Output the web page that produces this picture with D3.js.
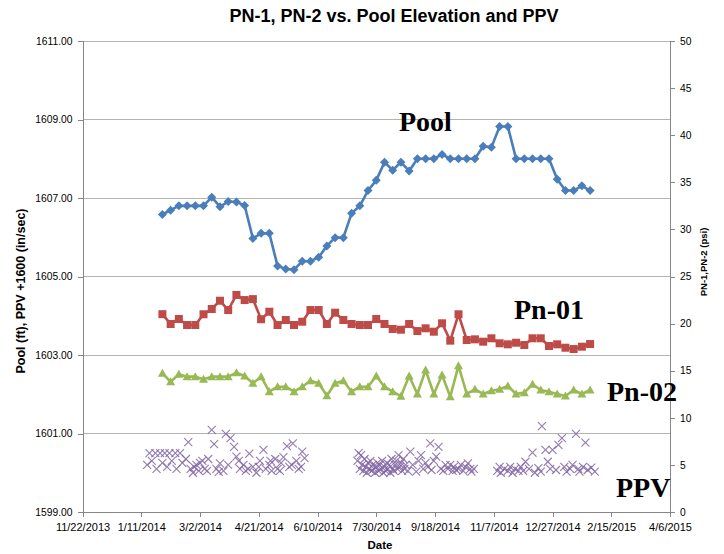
<!DOCTYPE html>
<html lang="en">
  <head>
    <meta charset="utf-8">
    <title>PN-1, PN-2 vs. Pool Elevation and PPV</title>
    <script src="https://cdn.jsdelivr.net/npm/d3@7/dist/d3.min.js"></script>
    <style>
      body { margin: 0; background: #fff; }
      .axis text { font-family: "Liberation Sans", Arial, sans-serif; fill: #000; }
      .axis path, .axis line { stroke: #868686; shape-rendering: crispEdges; }
      .grid line { stroke: #b3b3b3; shape-rendering: crispEdges; }
      .title, .label { font-family: "Liberation Sans", Arial, sans-serif; font-weight: bold; }
      .tag { font-family: "Liberation Serif", "DejaVu Serif", serif; font-weight: bold; font-size: 28px; }
    </style>
  </head>
  <body>
    <svg class="chart"></svg>

    <script type="text/javascript">
    // weekly readings (Pool, Pn-01, Pn-02)
    var weekDates = ["2014-01-29","2014-02-05","2014-02-12","2014-02-19","2014-02-26","2014-03-05","2014-03-12",
      "2014-03-19","2014-03-26","2014-04-02","2014-04-09","2014-04-16","2014-04-23","2014-04-30","2014-05-07",
      "2014-05-14","2014-05-21","2014-05-28","2014-06-04","2014-06-11","2014-06-18","2014-06-25","2014-07-02",
      "2014-07-09","2014-07-16","2014-07-23","2014-07-30","2014-08-06","2014-08-13","2014-08-20","2014-08-27",
      "2014-09-03","2014-09-10","2014-09-17","2014-09-24","2014-10-01","2014-10-08","2014-10-15","2014-10-22",
      "2014-10-29","2014-11-05","2014-11-12","2014-11-19","2014-11-26","2014-12-03","2014-12-10","2014-12-17",
      "2014-12-24","2014-12-31","2015-01-07","2015-01-14","2015-01-21","2015-01-28"];

    var pool = [1606.58,1606.69,1606.80,1606.80,1606.80,1606.80,1607.02,1606.78,1606.91,1606.90,1606.81,1605.97,
      1606.10,1606.10,1605.27,1605.19,1605.17,1605.39,1605.39,1605.49,1605.78,1605.99,1605.99,1606.61,1606.80,
      1607.19,1607.45,1607.91,1607.71,1607.91,1607.69,1608.00,1608.00,1608.00,1608.11,1608.00,1608.00,1608.00,
      1608.00,1608.32,1608.29,1608.82,1608.82,1608.00,1608.00,1608.00,1608.00,1608.00,1607.48,1607.19,1607.19,
      1607.31,1607.19];

    var pn01 = [21.0,19.96,20.49,19.85,19.85,20.99,21.55,22.43,21.44,23.04,22.5,22.6,20.46,21.26,19.85,20.38,
      19.85,20.2,21.44,21.44,19.96,21.16,20.38,19.96,19.85,19.85,20.49,19.96,19.43,19.35,19.96,19.21,19.5,19.14,
      20.03,18.19,20.99,18.26,18.33,18.08,18.44,17.91,17.8,17.97,17.73,18.44,18.44,17.62,17.8,17.44,17.3,17.55,17.83];

    var pn02 = [14.72,13.83,14.62,14.37,14.37,14.09,14.37,14.37,14.37,14.79,14.44,13.66,14.37,12.77,13.3,13.3,
      12.77,13.3,13.94,13.66,12.35,13.66,13.94,12.77,13.3,13.3,14.44,13.3,12.77,12.3,14.44,12.53,15.07,12.53,
      14.54,12.24,15.53,12.53,13.03,12.53,12.88,13.03,13.38,12.53,12.67,13.56,12.95,12.77,12.53,12.31,12.95,12.53,12.95];

    // PPV readings (in/sec), plotted at +1600 on the left axis
    var ppvDates = [
      "2014-01-16","2014-01-18","2014-01-20","2014-01-23","2014-01-24","2014-01-27","2014-01-29","2014-01-31","2014-02-02","2014-02-04",
      "2014-02-06","2014-02-09","2014-02-10","2014-02-13","2014-02-15","2014-02-18","2014-02-20","2014-02-22","2014-02-24","2014-02-25",
      "2014-02-27","2014-03-01","2014-03-02","2014-03-04","2014-03-06","2014-03-08","2014-03-09","2014-03-12","2014-03-14","2014-03-16",
      "2014-03-18","2014-03-19","2014-03-22","2014-03-24","2014-03-26","2014-03-28","2014-03-31","2014-04-02","2014-04-04","2014-04-05",
      "2014-04-08","2014-04-10","2014-04-12","2014-04-13","2014-04-16","2014-04-19","2014-04-21","2014-04-22","2014-04-25","2014-04-27",
      "2014-04-30","2014-05-01","2014-05-02","2014-05-05","2014-05-07","2014-05-09","2014-05-10","2014-05-12","2014-05-15","2014-05-17",
      "2014-05-19","2014-05-20","2014-05-23","2014-05-25","2014-05-27","2014-05-28","2014-05-30",
      "2014-07-14","2014-07-15","2014-07-16","2014-07-17","2014-07-18","2014-07-19","2014-07-20","2014-07-21","2014-07-22","2014-07-23",
      "2014-07-24","2014-07-25","2014-07-26","2014-07-27","2014-07-28","2014-07-29","2014-07-30","2014-07-31","2014-08-01","2014-08-02",
      "2014-08-03","2014-08-04","2014-08-05","2014-08-06","2014-08-07","2014-08-08","2014-08-09","2014-08-10","2014-08-11","2014-08-12",
      "2014-08-13","2014-08-14","2014-08-15","2014-08-16","2014-08-17","2014-08-18","2014-08-19","2014-08-20","2014-08-21","2014-08-22",
      "2014-08-23","2014-08-24","2014-08-26","2014-08-28","2014-08-30","2014-09-02","2014-09-04","2014-09-06","2014-09-08","2014-09-10",
      "2014-09-12","2014-09-14","2014-09-15","2014-09-17","2014-09-19","2014-09-21","2014-09-23","2014-09-25","2014-09-27","2014-09-29",
      "2014-10-01","2014-10-03","2014-10-04","2014-10-06","2014-10-08","2014-10-10","2014-10-12","2014-10-14","2014-10-16","2014-10-18",
      "2014-10-19","2014-10-21",
      "2014-11-10","2014-11-12","2014-11-13","2014-11-16","2014-11-19","2014-11-21","2014-11-23","2014-11-25","2014-11-28","2014-11-30",
      "2014-12-02","2014-12-04","2014-12-07","2014-12-10","2014-12-12","2014-12-15","2014-12-17","2014-12-18","2014-12-21","2014-12-23",
      "2014-12-25","2014-12-27","2014-12-30","2015-01-01","2015-01-04","2015-01-06","2015-01-08","2015-01-11","2015-01-13","2015-01-16",
      "2015-01-18","2015-01-19","2015-01-22","2015-01-24","2015-01-26","2015-01-29","2015-02-01"];

    var ppv = [
      0.2,0.5,0.3,0.5,0.1,0.5,0.25,0.5,0.15,0.5,
      0.3,0.5,0.1,0.5,0.25,0.35,0.78,0.1,0.0,0.15,
      0.2,0.05,0.25,0.3,0.1,0.05,0.35,1.09,0.73,0.1,
      0.02,0.24,0.05,0.99,0.2,0.88,0.66,0.41,0.3,0.1,
      0.2,0.05,0.1,0.49,0.15,0.0,0.15,0.3,0.58,0.1,
      0.2,0.3,0.05,0.35,0.1,0.05,0.25,0.4,0.68,0.15,
      0.2,0.75,0.3,0.1,0.15,0.54,0.37,
      0.3,0.5,0.1,0.45,0.2,0.05,0.35,0.15,0.0,0.25,
      0.1,0.3,0.05,0.2,0.1,0.0,0.15,0.25,0.05,0.2,
      0.1,0.3,0.0,0.15,0.05,0.25,0.1,0.2,0.0,0.35,
      0.1,0.05,0.2,0.3,0.1,0.45,0.15,0.25,0.05,0.35,
      0.1,0.2,0.05,0.54,0.2,0.03,0.3,0.45,0.1,0.25,
      0.15,0.75,0.07,0.3,0.41,0.66,0.1,0.05,0.2,0.1,
      0.2,0.05,0.15,0.07,0.1,0.2,0.05,0.15,0.24,0.1,
      0.03,0.1,
      0.05,0.15,0.0,0.1,0.05,0.15,0.0,0.1,0.05,0.15,
      0.05,0.28,0.1,0.51,0.0,0.12,0.03,1.19,0.58,0.28,
      0.1,0.58,0.07,0.71,0.88,0.15,0.03,0.1,0.2,0.99,
      0.1,0.03,0.15,0.77,0.07,0.13,0.03];

    var xTicks = ["2013-11-22","2014-01-11","2014-03-02","2014-04-21","2014-06-10","2014-07-30","2014-09-18",
      "2014-11-07","2014-12-27","2015-02-15","2015-04-06"];
    var leftTicks = [1599,1601,1603,1605,1607,1609,1611];
    var rightTicks = [0,5,10,15,20,25,30,35,40,45,50];

    var margin = {top: 41, right: 54, bottom: 42, left: 82.5},
        width = 724 - margin.left - margin.right,
        height = 554 - margin.top - margin.bottom;

    var parseDate = d3.timeParse("%Y-%m-%d");

    var x = d3.scaleTime()
        .domain([parseDate(xTicks[0]), parseDate(xTicks[xTicks.length - 1])])
        .range([0, width]);
    var yL = d3.scaleLinear().domain([1599, 1611]).range([height, 0]);
    var yR = d3.scaleLinear().domain([0, 50]).range([height, 0]);

    var svg = d3.select(".chart").attr("width", 724).attr("height", 554);
    var chart = svg.append("g")
        .attr("transform", "translate(" + margin.left + "," + margin.top + ")");

    // gridlines
    chart.append("g").attr("class", "grid")
      .selectAll("line").data(leftTicks.slice(1)).enter().append("line")
        .attr("x1", 0).attr("x2", width)
        .attr("y1", function(d) { return yL(d); })
        .attr("y2", function(d) { return yL(d); });

    // axes
    var xAxis = d3.axisBottom(x)
        .tickValues(xTicks.map(parseDate))
        .tickFormat(d3.timeFormat("%-m/%-d/%Y"))
        .tickSizeOuter(0).tickSize(5).tickPadding(6);
    var gx = chart.append("g").attr("class", "x axis")
        .attr("transform", "translate(0," + height + ")")
        .call(xAxis);
    gx.selectAll("text").style("font-size", "11px");

    var gl = chart.append("g").attr("class", "y axis")
        .call(d3.axisLeft(yL).tickValues(leftTicks).tickFormat(d3.format(".2f"))
          .tickSizeOuter(0).tickSize(5).tickPadding(5));
    gl.selectAll("text").style("font-size", "10.3px");

    var gr = chart.append("g").attr("class", "y axis")
        .attr("transform", "translate(" + width + ",0)")
        .call(d3.axisRight(yR).tickValues(rightTicks).tickSizeOuter(0).tickSize(5).tickPadding(5));
    gr.selectAll("text").style("font-size", "10.3px");

    // weekly series
    var weeks = weekDates.map(parseDate);

    function drawLine(vals, yScale, color) {
      var pts = vals.map(function(v, i) { return {date: weeks[i], value: v}; });
      chart.append("path")
        .datum(pts)
        .attr("fill", "none")
        .attr("stroke", color)
        .attr("stroke-width", 2.6)
        .attr("stroke-linejoin", "round")
        .attr("d", d3.line()
          .x(function(d) { return x(d.date); })
          .y(function(d) { return yScale(d.value); }));
      return pts;
    }

    var poolPts = drawLine(pool, yL, "#4a7ebb");
    chart.selectAll(".pool").data(poolPts).enter().append("path")
        .attr("class", "pool")
        .attr("fill", "#4a7ebb")
        .attr("transform", function(d) { return "translate(" + x(d.date) + "," + yL(d.value) + ")"; })
        .attr("d", "M0,-4.5L4.5,0L0,4.5L-4.5,0Z");

    var pn01Pts = drawLine(pn01, yR, "#be4b48");
    chart.selectAll(".pn01").data(pn01Pts).enter().append("rect")
        .attr("class", "pn01")
        .attr("fill", "#be4b48")
        .attr("x", function(d) { return x(d.date) - 4; })
        .attr("y", function(d) { return yR(d.value) - 4; })
        .attr("width", 8).attr("height", 8);

    var pn02Pts = drawLine(pn02, yR, "#98b954");
    chart.selectAll(".pn02").data(pn02Pts).enter().append("path")
        .attr("class", "pn02")
        .attr("fill", "#98b954")
        .attr("transform", function(d) { return "translate(" + x(d.date) + "," + yR(d.value) + ")"; })
        .attr("d", "M0,-4.5L4.5,3.5L-4.5,3.5Z");

    // PPV crosses
    var ppvPts = ppv.map(function(v, i) { return {date: parseDate(ppvDates[i]), value: 1600 + v}; });
    chart.selectAll(".ppv").data(ppvPts).enter().append("path")
        .attr("class", "ppv")
        .attr("fill", "none")
        .attr("stroke", "#8064a2")
        .attr("stroke-opacity", 0.85)
        .attr("stroke-width", 1.1)
        .attr("transform", function(d) { return "translate(" + x(d.date) + "," + yL(d.value) + ")"; })
        .attr("d", "M-4,-4L4,4M-4,4L4,-4");

    // series tags
    var tags = [["Pool", 399, 131], ["Pn-01", 514, 319], ["Pn-02", 607, 401], ["PPV", 616, 497]];
    svg.selectAll(".tag").data(tags).enter().append("text")
        .attr("class", "tag")
        .attr("x", function(d) { return d[1]; })
        .attr("y", function(d) { return d[2]; })
        .text(function(d) { return d[0]; });

    // titles
    svg.append("text").attr("class", "title")
        .attr("x", 394).attr("y", 22)
        .attr("text-anchor", "middle")
        .style("font-size", "18px")
        .text("PN-1, PN-2 vs. Pool Elevation and PPV");

    svg.append("text").attr("class", "label")
        .attr("transform", "translate(25,291) rotate(-90)")
        .attr("text-anchor", "middle")
        .style("font-size", "12.5px")
        .text("Pool (ft), PPV +1600 (in/sec)");

    svg.append("text").attr("class", "label")
        .attr("transform", "translate(707,262) rotate(-90)")
        .attr("text-anchor", "middle")
        .style("font-size", "9.5px")
        .text("PN-1,PN-2 (psi)");

    svg.append("text").attr("class", "label")
        .attr("x", 380).attr("y", 549)
        .attr("text-anchor", "middle")
        .style("font-size", "11.5px")
        .text("Date");
    </script>
  </body>
</html>
